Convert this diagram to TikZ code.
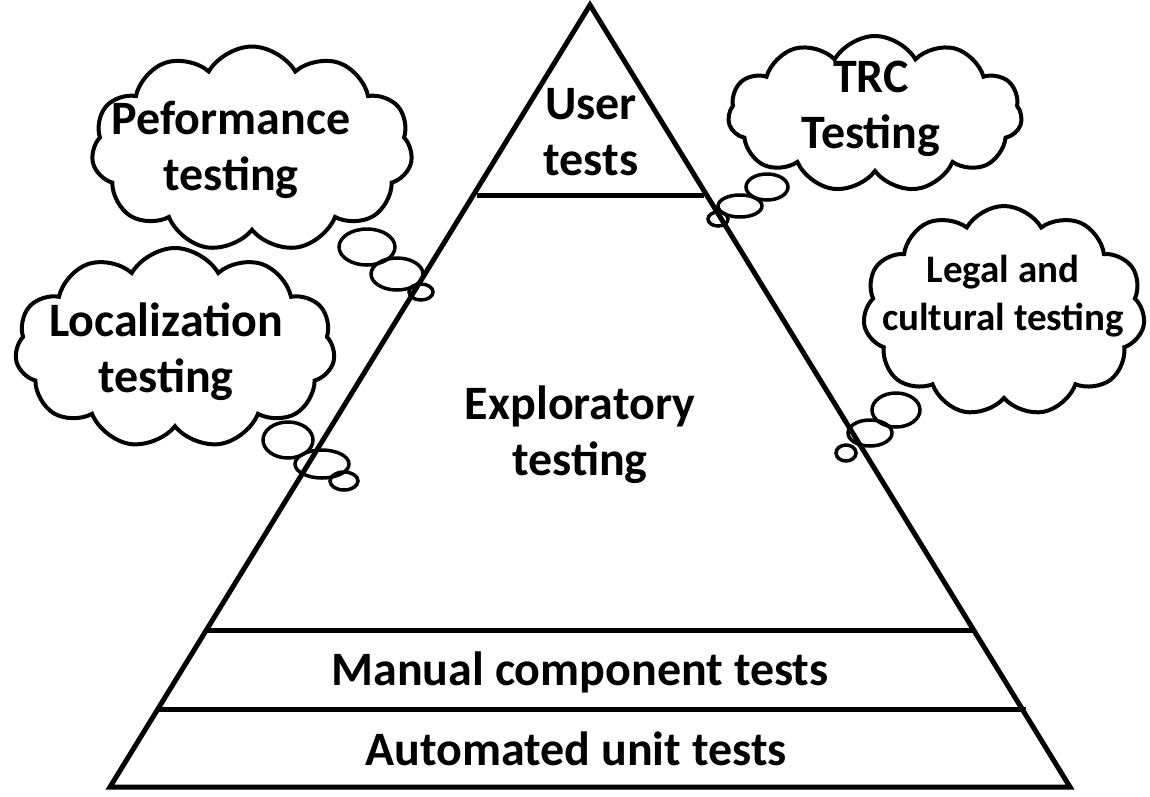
\documentclass[tikz,border=0pt]{standalone}
\usepackage{fontspec}
\setmainfont{Carlito}
\usetikzlibrary{shapes.symbols}

\begin{document}
\begin{tikzpicture}[x=1pt,y=-1pt,
  lbl/.style={font=\fontsize{48}{56}\selectfont\bfseries, align=center, inner sep=0pt, anchor=base},
  smalllbl/.style={font=\fontsize{39}{48}\selectfont\bfseries, align=center, inner sep=0pt, anchor=base},
  thought/.style={cloud, cloud puffs=11, cloud puff arc=120, cloud ignores aspect,
                  draw, line width=4pt, inner sep=0pt},
  bubble/.style={draw, line width=3.5pt},
  edge/.style={line width=5pt, line join=miter}]
\useasboundingbox (0,0) rectangle (1150,796);

% pyramid outline
\coordinate (apex) at (590,5);
\coordinate (bl) at (110,787);
\coordinate (br) at (1070,787);
\draw[edge] (bl) -- (apex) -- (br) -- cycle;

% layer separators
\coordinate (u1) at (477,195);  \coordinate (u2) at (704,195);
\coordinate (e1) at (207,630);  \coordinate (e2) at (973,630);
\coordinate (m1) at (158,709);  \coordinate (m2) at (1026,709);
\draw[edge] (u1) -- (u2);
\draw[edge] (e1) -- (e2);
\draw[edge] (m1) -- (m2);

% layer labels (base = baseline of the last line)
\node[lbl] (user) at (591,175) {User\\tests};
\node[lbl] (explore) at (580,475) {Exploratory\\testing};
\node[lbl] (manual) at (580,685) {Manual component tests};
\node[lbl] (auto) at (576,765) {Automated unit tests};

% thought clouds
\node[thought, minimum width=321pt, minimum height=205pt] (perfcloud) at (252,149) {};
\node[lbl] (perf) at (231,190) {Peformance\\testing};
\draw[bubble] (367,247) ellipse [x radius=28, y radius=18];
\draw[bubble] (397,274) ellipse [x radius=26, y radius=16];
\draw[bubble] (421,292) ellipse [x radius=12, y radius=8];

\node[thought, minimum width=320pt, minimum height=200pt] (loccloud) at (175,348) {};
\node[lbl] (loc) at (166,392) {Localization\\testing};
\draw[bubble] (288,440) ellipse [x radius=25, y radius=18];
\draw[bubble] (322,464) ellipse [x radius=27, y radius=14];
\draw[bubble] (344,481) ellipse [x radius=14, y radius=9];

\node[thought, minimum width=294pt, minimum height=156pt] (trccloud) at (875,114) {};
\node[lbl] (trc) at (871,148) {TRC\\Testing};
\draw[bubble] (767,187) ellipse [x radius=21, y radius=13];
\draw[bubble] (740,206) ellipse [x radius=22, y radius=11];
\draw[bubble] (718,219) ellipse [x radius=10, y radius=7];

\node[thought, minimum width=282pt, minimum height=210pt] (legalcloud) at (1004,311) {};
\node[smalllbl] (legal) at (1003,330) {Legal and\\cultural testing};
\draw[bubble] (896,410) ellipse [x radius=24, y radius=17];
\draw[bubble] (870,433) ellipse [x radius=22, y radius=13];
\draw[bubble] (846,453) ellipse [x radius=10, y radius=8];
\end{tikzpicture}
\end{document}
